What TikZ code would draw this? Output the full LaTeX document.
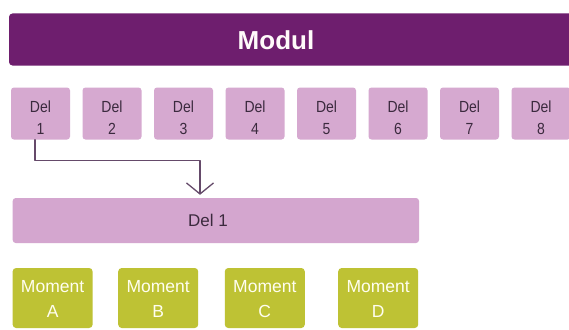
\documentclass[tikz,border=0pt]{standalone}
\usepackage{fontspec}
\setmainfont{Liberation Sans}
\usetikzlibrary{arrows.meta}
\definecolor{modulc}{HTML}{6E1E6E}
\definecolor{delc}{HTML}{D6A9D0}
\definecolor{widec}{HTML}{D4A6CF}
\definecolor{momc}{HTML}{BEC234}
\definecolor{deltxt}{HTML}{3B2A3E}
\definecolor{connc}{HTML}{654A6A}
\tikzset{
  modulbar/.style={fill=modulc, draw=none, rounded corners=3.5pt, minimum width=570pt, minimum height=52pt, inner sep=0pt},
  modultext/.style={text=white!92!pink, font=\fontsize{26}{30}\selectfont\bfseries, inner sep=0pt},
  delbox/.style={fill=delc, draw=none, rounded corners=3pt, minimum width=59pt, minimum height=52pt, inner sep=0pt},
  deltext/.style={text=deltxt, align=center, font=\fontsize{14}{22}\selectfont, inner sep=0pt},
  widebox/.style={fill=widec, draw=none, rounded corners=3pt, minimum width=406.3pt, minimum height=45pt, inner sep=0pt},
  widetext/.style={text=deltxt, font=\fontsize{17}{20}\selectfont, inner sep=0pt},
  mombox/.style={fill=momc, draw=none, rounded corners=3.5pt, minimum width=80pt, minimum height=60pt, inner sep=0pt},
  momtext/.style={text=white!94!yellow, align=center, font=\fontsize{17.5}{25}\selectfont, inner sep=0pt},
  conn/.style={draw=connc, line width=1.3pt, line cap=round, line join=round},
}
\begin{document}
\begin{tikzpicture}[x=1pt, y=-1pt]
\useasboundingbox[fill=white] (0,0) rectangle (569,329);
% Modul bar
\node[modulbar] (modul) at (294,39.5) {};
\node[modultext] (modultxt) at (276,40) {Modul};
% Del boxes
\foreach \i in {1,...,8} {
  \node[delbox] (d\i) at ({40.5+71.5*(\i-1)},113.5) {};
  \node[deltext] (d\i t) at ({40.5+71.5*(\i-1)},118) {\scalebox{1}[1.15]{Del}\\\scalebox{1}[1.15]{\i}};
}
% wide box
\node[widebox] (wide) at (215.85,220.5) {};
\node[widetext] (widetxt) at (208,220) {Del 1};
% moments
\node[mombox] (ma) at (52.6,298) {};
\node[mombox] (mb) at (158.2,298) {};
\node[mombox] (mc) at (264.8,298) {};
\node[mombox] (md) at (378.2,298) {};
\node[momtext] (mat) at (52.6,299) {Moment\\A};
\node[momtext] (mbt) at (158.2,299) {Moment\\B};
\node[momtext] (mct) at (264.8,299) {Moment\\C};
\node[momtext] (mdt) at (378.2,299) {Moment\\D};
% connector
\coordinate (elbow) at (200,160.7);
\draw[conn, -{Straight Barb[length=11pt,width=27pt,line width=1.3pt]}, shorten >=3pt]
  ([xshift=-5.5pt]d1.south) |- (elbow) -- (elbow |- wide.north);
\end{tikzpicture}
\end{document}
